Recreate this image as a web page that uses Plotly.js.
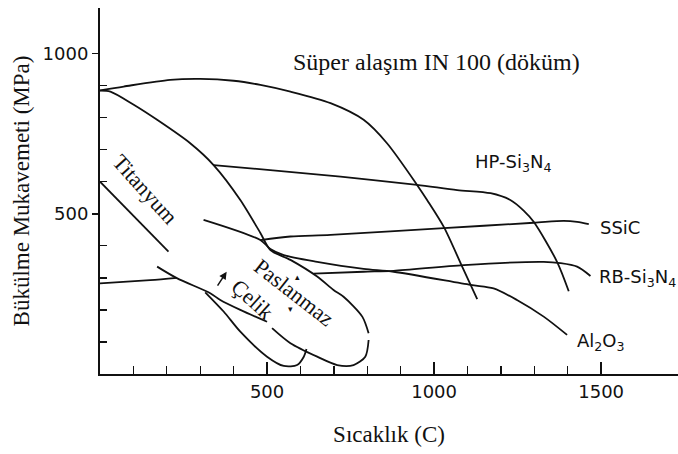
<!DOCTYPE html>
<html>
<head>
<meta charset="utf-8">
<script src="https://cdn.plot.ly/plotly-3.0.1.min.js"></script>
<style>html,body{margin:0;padding:0;background:#fff;}</style>
</head>
<body>
<div id="chart" style="width:678px;height:454px;"></div>
<script>
// Temperature (°C) / bending strength (MPa)
const in100_T = [0, 71, 210, 300, 400, 480, 570, 690, 789, 859, 949, 979, 1029, 1084, 1129];
const in100_S = [885, 897, 918, 921, 915, 902, 881, 845, 793, 720, 590, 543, 459, 335, 234];

const outer_T = [0, 31, 101, 171, 270, 340, 420, 480, 510, 570, 650, 699, 729, 785, 804, null, 804, 794, 759, 710, 650, 570, 515, null, 500, 420, 360, 330, 230, 171];
const outer_S = [884, 881, 840, 793, 720, 652, 543, 440, 387, 356, 304, 262, 241, 179, 127, null, 106, 54, 28, 28, 54, 96, 143, null, 163, 200, 231, 252, 299, 335];

const ti_T = [0, 205];
const ti_S = [600, 382];

const u_T = [315, 370, 420, 500, 550, 590, 610, 618];
const u_S = [255, 195, 132, 54, 25, 28, 54, 78];

const hp_T = [340, 720, 949, 1069, 1169, 1228, 1268, 1298, 1368, 1403];
const hp_S = [652, 616, 590, 574, 564, 543, 510, 475, 350, 258];

const ssic_T = [480, 570, 690, 1029, 1298, 1388, 1428, 1463];
const ssic_S = [418, 429, 434, 455, 472, 478, 475, 468];

const rb_T = [0, 150, 230, null, 639, 789, 879, 1089, 1328, 1378, 1428, 1468];
const rb_S = [283, 293, 300, null, 313, 319, 322, 340, 350, 346, 335, 306];

const al_T = [310, 480, 510, 550, 650, 789, 879, 1109, 1178, 1248, 1328, 1398];
const al_S = [481, 418, 390, 371, 350, 328, 319, 278, 267, 231, 179, 122];

const xMajor = [500, 1000, 1500];
const xMinor = [100, 200, 300, 400, 600, 700, 800, 900, 1100, 1200, 1300, 1400];
const yMajor = [500, 1000];
const yMinor = [100, 200, 300, 400, 600, 700, 800, 900];

const lineStyle = {color: '#111', width: 1.8, shape: 'spline', smoothing: 0.8};
function tr(x, y) {
  return {x: x, y: y, type: 'scatter', mode: 'lines', line: lineStyle, connectgaps: false, hoverinfo: 'skip', showlegend: false};
}
const data = [
  tr(in100_T, in100_S), tr(outer_T, outer_S), tr(ti_T, ti_S), tr(u_T, u_S),
  tr(hp_T, hp_S), tr(ssic_T, ssic_S), tr(rb_T, rb_S), tr(al_T, al_S)
];

const serif = 'Liberation Serif, Times New Roman, serif';
const sans = 'DejaVu Sans, sans-serif';
function lab(text, x, y, opts) {
  return Object.assign({text: text, x: x, y: y, xref: 'x', yref: 'y', showarrow: false,
    font: {family: sans, size: 18, color: '#111'}}, opts || {});
}
const annotations = [
  lab('Süper alaşım IN 100 (döküm)', 1007, 974, {font: {family: serif, size: 24, color: '#111'}}),
  lab('HP-Si<sub>3</sub>N<sub>4</sub>', 1237, 659),
  lab('SSiC', 1492, 456, {xanchor: 'left'}),
  lab('RB-Si<sub>3</sub>N<sub>4</sub>', 1489, 300, {xanchor: 'left'}),
  lab('Al<sub>2</sub>O<sub>3</sub>', 1423, 100, {xanchor: 'left'}),
  lab('Titanyum', 136, 577, {textangle: 48, font: {family: serif, size: 22, color: '#111'}}),
  lab('Paslanmaz', 581, 254, {textangle: 38, font: {family: serif, size: 22, color: '#111'}}),
  lab('Çelik', 458, 234, {textangle: 42, font: {family: serif, size: 22, color: '#111'}}),
  lab('▴', 590, 304, {font: {family: sans, size: 9, color: '#111'}}),
  lab('▾', 570, 203, {font: {family: sans, size: 9, color: '#111'}}),
  {text: '', x: 379, y: 319, ax: 349, ay: 271, xref: 'x', yref: 'y', axref: 'x', ayref: 'y',
   showarrow: true, arrowhead: 2, arrowsize: 1, arrowwidth: 1.5, arrowcolor: '#111', standoff: 0}
];

const layout = {
  width: 678, height: 454,
  margin: {l: 100, r: 0, t: 8, b: 80},
  paper_bgcolor: '#fff', plot_bgcolor: '#fff',
  showlegend: false,
  xaxis: {
    range: [0, 1730], showgrid: false, zeroline: false,
    showline: true, linecolor: '#111', linewidth: 2,
    tickmode: 'array', tickvals: xMajor, ticktext: xMajor.map(String),
    ticks: 'inside', ticklen: 12, tickwidth: 1.5, tickcolor: '#111',
    minor: {tickmode: 'array', tickvals: xMinor, ticks: 'inside', ticklen: 8, tickwidth: 1.3, tickcolor: '#111', showgrid: false},
    tickfont: {family: sans, size: 18, color: '#111'},
    title: {text: 'Sıcaklık (C)', font: {family: serif, size: 23, color: '#111'}, standoff: 25}
  },
  yaxis: {
    range: [0, 1142], showgrid: false, zeroline: false,
    showline: true, linecolor: '#111', linewidth: 2,
    tickmode: 'array', tickvals: yMajor, ticktext: yMajor.map(String),
    ticks: 'outside', ticklen: 6, tickwidth: 1.5, tickcolor: '#111',
    minor: {tickmode: 'array', tickvals: yMinor, ticks: 'inside', ticklen: 7, tickwidth: 1.3, tickcolor: '#111', showgrid: false},
    tickfont: {family: sans, size: 18, color: '#111'},
    title: {text: 'Bükülme Mukavemeti (MPa)', font: {family: serif, size: 23, color: '#111'}, standoff: 7}
  },
  annotations: annotations
};

Plotly.newPlot('chart', data, layout, {displayModeBar: false, staticPlot: true});
</script>
</body>
</html>
